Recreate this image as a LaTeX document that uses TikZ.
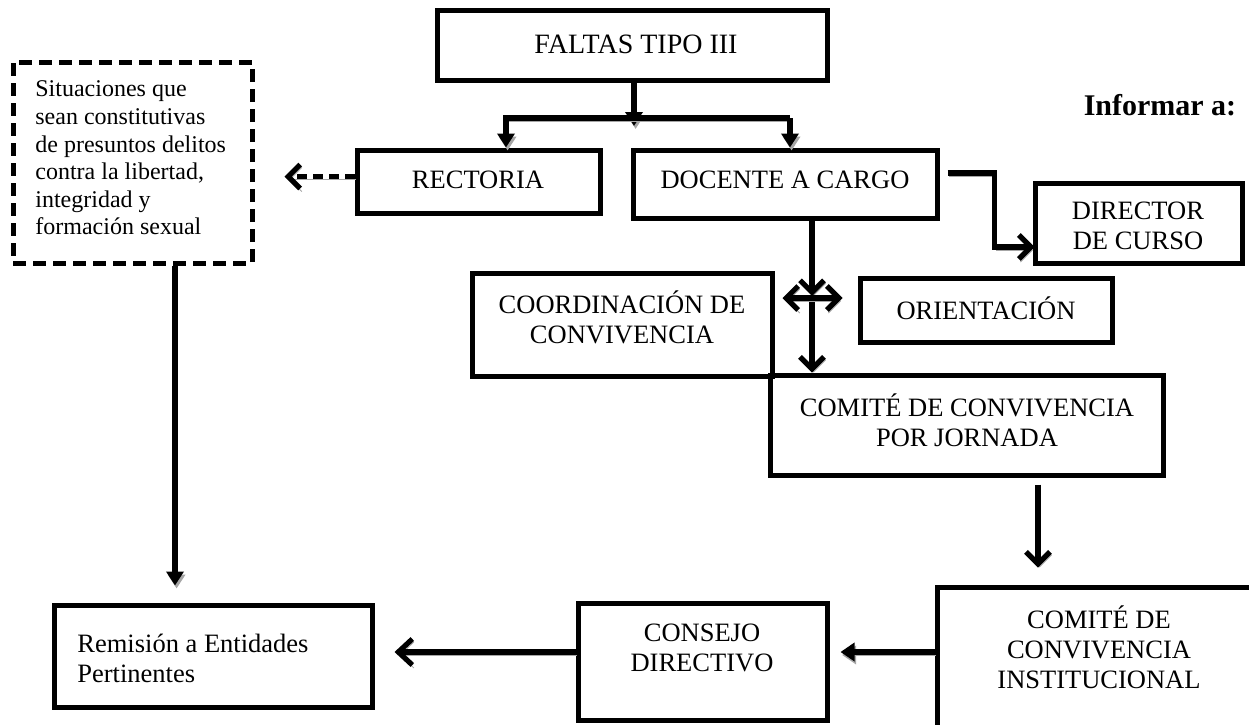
\documentclass[tikz,border=0pt]{standalone}
\usepackage{fontspec}
\setmainfont{Liberation Serif}
\usetikzlibrary{arrows.meta,fit,calc}
\tikzset{
  box/.style={draw, line width=2.5pt, inner sep=0pt},
  dbox/.style={draw, line width=2.5pt, inner sep=0pt, dash pattern=on 6.5pt off 3.5pt},
  txt/.style={font=\fontsize{13.25}{15}\selectfont, align=center, inner sep=0pt},
  ltxt/.style={font=\fontsize{13.25}{15}\selectfont, align=left, inner sep=0pt, anchor=west},
  stxt/.style={font=\fontsize{12}{13.8}\selectfont, align=left, inner sep=0pt, anchor=west},
  conn/.style={line width=2.6pt, preaction={draw=black!35, transform canvas={shift={(0.8pt,-1.5pt)}}}},
  vtip/.style={-{Straight Barb[length=6pt,width=12pt]}},
  ttip/.style={-{Triangle[length=7pt,width=8.5pt]}},
}
\begin{document}
\begin{tikzpicture}[x=0.5pt,y=-0.5pt]
\path[use as bounding box] (0,0) rectangle (1249,724);
\clip (0,0) rectangle (1249,724);
% boxes
\node[box,  fit={(437,10) (827,80)}]   (faltas) {};
\node[dbox, fit={(13,62) (252,263)}]   (dashed) {};
\node[box,  fit={(357,150) (600,213)}] (rectoria) {};
\node[box,  fit={(633,150) (937,218)}] (docente) {};
\node[box,  fit={(1035,183) (1242,263)}] (director) {};
\node[box,  fit={(860,278) (1112,342)}] (orient) {};
\node[box,  fit={(472,273) (772,376)}] (coord) {};
\node[box,  fit={(770,375) (1163,475)}] (jornada) {};
\node[box,  fit={(937,587) (1262,760)}] (instit) {};
\node[box,  fit={(578,603) (827,720)}] (consejo) {};
\node[box,  fit={(54,605) (372,707)}]  (remision) {};
% texts
\node[txt, font=\fontsize{14}{16}\selectfont] (faltasT) at (636,44) {FALTAS TIPO III};
\node[txt] (rectoriaT) at (478,180) {RECTORIA};
\node[txt] (docenteT) at (785,180) {DOCENTE A CARGO};
\node[txt] (directorT) at (1138,226) {DIRECTOR\\DE CURSO};
\node[txt] (orientT) at (986,308) {ORIENTACIÓN};
\node[txt] (coordT) at (622,317) {COORDINACIÓN DE\\CONVIVENCIA};
\node[txt] (jornadaT) at (967,420) {COMITÉ DE CONVIVENCIA\\POR JORNADA};
\node[txt] (institT) at (1099,647) {COMITÉ DE\\CONVIVENCIA\\INSTITUCIONAL};
\node[txt] (consejoT) at (702,648) {CONSEJO\\DIRECTIVO};
\node[ltxt] (remisionT) at (77,658) {Remisión a Entidades\\Pertinentes};
\node[stxt] (dashedT) at (35,158) {Situaciones que\\sean constitutivas\\de presuntos delitos\\contra la libertad,\\integridad y\\formación sexual};
\node[inner sep=0pt, font=\bfseries\fontsize{15}{18}\selectfont] (inf) at (1160,105) {Informar a:};
% connectors
\coordinate (barTip) at (634,126);
\coordinate (barL) at (506,118);
\coordinate (barR) at (790,118);
\draw[conn, ttip] (faltas.south -| barTip) -- (barTip);
\draw[conn, ttip] (barR) -- (barL) -- (rectoria.north -| barL);
\draw[conn, ttip] (barR) -- (docente.north -| barR);
\draw[conn, vtip, dash pattern=on 5pt off 3pt] ($(rectoria.west)+(0,-5)$) -- ($(rectoria.west -| dashed.east)+(30,-5)$);
\draw[conn, vtip] ($(docente.east)+(8,-11)$) -- ++(47,0) |- ($(director.west)+(2,24)$);
\coordinate (mid) at (812,298);
\draw[conn, vtip] (docente.south -| mid) -- ($(mid)+(0,-2)$);
\draw[conn, vtip] (mid) -- (jornada.north -| mid);
\draw[conn, {Straight Barb[length=6pt,width=12pt]}-{Straight Barb[length=6pt,width=12pt]}] ($(coord.east |- mid)+(8,0)$) -- ($(orient.west |- mid)+(-15,0)$);
\coordinate (jx) at (1038,0);
\draw[conn, vtip] ($(jornada.south -| jx)+(0,7)$) -- ($(instit.north -| jx)+(0,-17)$);
\coordinate (row) at (0,652);
\draw[conn, -{Triangle[length=7pt,width=9pt]}] (instit.west |- row) -- ($(consejo.east |- row)+(11,0)$);
\draw[conn, -{Straight Barb[length=7pt,width=13pt]}] (consejo.west |- row) -- ($(remision.east |- row)+(20,0)$);
\coordinate (dx) at (175,0);
\draw[conn, ttip] (dashed.south -| dx) -- ($(remision.north -| dx)+(0,-17)$);
\end{tikzpicture}
\end{document}
